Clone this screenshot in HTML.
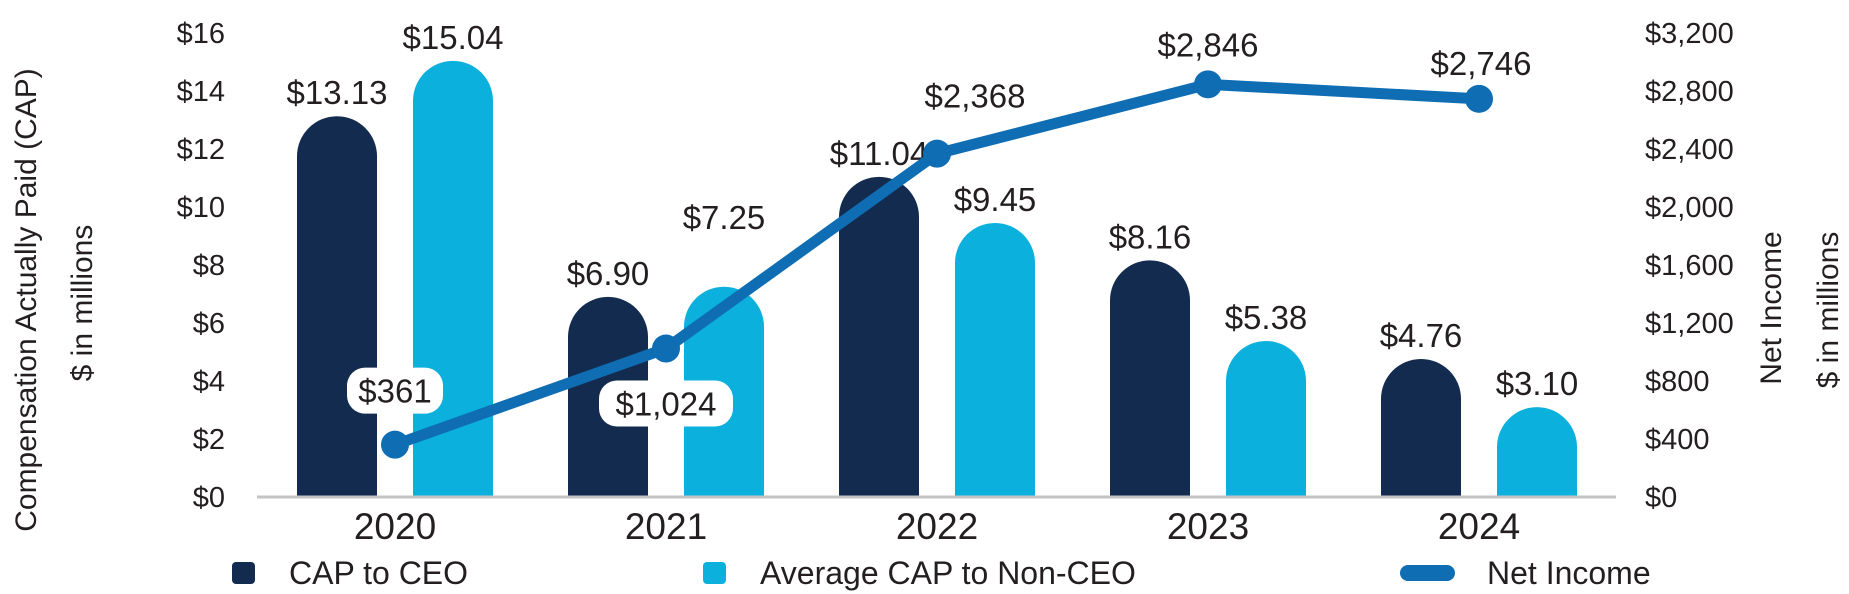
<!DOCTYPE html>
<html><head><meta charset="utf-8"><style>
html,body{margin:0;padding:0;background:#fff;}
svg{display:block;font-family:"Liberation Sans",sans-serif;}
</style></head><body>
<svg id="chart" width="1849" height="594" viewBox="0 0 1849 594">
<text transform="translate(36,300) rotate(-90)" text-anchor="middle" font-size="30" fill="#231f20">Compensation Actually Paid (CAP)</text>
<text transform="translate(92,303) rotate(-90)" text-anchor="middle" font-size="30" fill="#231f20">$ in millions</text>
<text transform="translate(1781,308) rotate(-90)" text-anchor="middle" font-size="30" fill="#231f20">Net Income</text>
<text transform="translate(1838,310) rotate(-90)" text-anchor="middle" font-size="30" fill="#231f20">$ in millions</text>
<g id="g-left"></g>
<g id="g-right"></g>
<g id="g-bars"></g>
<line x1="257" y1="497" x2="1616" y2="497" stroke="#c3c3c3" stroke-width="3"/>
<g id="g-x"></g>
<g id="g-line"></g>
<g>
<rect x="232" y="562" width="23" height="22" rx="4" fill="#132b4f"/>
<text x="289" y="584" font-size="32" fill="#231f20">CAP to CEO</text>
<rect x="703" y="562" width="23" height="22" rx="4" fill="#0bb0dc"/>
<text x="760" y="584" font-size="32" fill="#231f20">Average CAP to Non-CEO</text>
<line x1="1408" y1="573" x2="1447" y2="573" stroke="#0e6db3" stroke-width="16" stroke-linecap="round"/>
<text x="1487" y="584" font-size="32" fill="#231f20">Net Income</text>
</g>
</svg>
<script>
const years = ["2020","2021","2022","2023","2024"];
const capCeo = [13.13, 6.90, 11.04, 8.16, 4.76];
const capNonCeo = [15.04, 7.25, 9.45, 5.38, 3.10];
const netIncome = [361, 1024, 2368, 2846, 2746];
const leftTicks = [0,2,4,6,8,10,12,14,16];
const rightTicks = [0,400,800,1200,1600,2000,2400,2800,3200];

const NS="http://www.w3.org/2000/svg";
const Y0=497, PXU=29;
function yL(v){return Y0 - v*PXU;}
function yR(v){return Y0 - v/3200*16*PXU;}
function xC(i){return 395 + i*271;}
function mk(tag,attrs,parent,text){const e=document.createElementNS(NS,tag);for(const k in attrs)e.setAttribute(k,attrs[k]);if(text!==undefined)e.textContent=text;parent.appendChild(e);return e;}
function money(v,d){return "$"+v.toLocaleString("en-US",{minimumFractionDigits:d,maximumFractionDigits:d});}

const gL=document.getElementById("g-left"),gR=document.getElementById("g-right"),gB=document.getElementById("g-bars"),gX=document.getElementById("g-x"),gN=document.getElementById("g-line");
leftTicks.forEach(v=>{const t=mk("text",{x:225,y:yL(v)+10,"text-anchor":"end","font-size":29,fill:"#231f20"},gL,money(v,0));

});
rightTicks.forEach(v=>{const t=mk("text",{x:1645,y:yR(v)+10,"font-size":29,fill:"#231f20"},gR,money(v,0));

});

function bar(x,v,color){const w=80,r=40,top=yL(v),bot=Y0;
const d=`M${x},${bot}V${top+r}A${r},${r} 0 0 1 ${x+w},${top+r}V${bot}Z`;
return mk("path",{d:d,fill:color},gB);}
const labelLift=[0,46,0,0,0];
years.forEach((y,i)=>{
const cx=xC(i);
const b1=bar(cx-98,capCeo[i],"#132b4f");


const b2=bar(cx+18,capNonCeo[i],"#0bb0dc");


const l1=mk("text",{x:cx-58,y:yL(capCeo[i])-12,"text-anchor":"middle","font-size":33,fill:"#231f20"},gB,money(capCeo[i],2));


const l2=mk("text",{x:cx+58,y:yL(capNonCeo[i])-12-labelLift[i],"text-anchor":"middle","font-size":33,fill:"#231f20"},gB,money(capNonCeo[i],2));


const xl=mk("text",{x:cx,y:539,"text-anchor":"middle","font-size":37,fill:"#231f20"},gX,y);


});
const pts=netIncome.map((v,i)=>[xC(i),yR(v)]);
const pl=mk("polyline",{points:pts.map(p=>p.join(",")).join(" "),fill:"none",stroke:"#0e6db3","stroke-width":11,"stroke-linejoin":"round"},gN);


pts.forEach((p,i)=>{const c=mk("circle",{cx:p[0],cy:p[1],r:14,fill:"#0e6db3"},gN);

});
const nlPos=[[0,-54,true],[0,55,true],[38,-58,false],[0,-40,false],[2,-36,false]];
netIncome.forEach((v,i)=>{const [dx,dy,boxed]=nlPos[i];const cx=pts[i][0]+dx,cy=pts[i][1]+dy;
if(boxed){const txt=money(v,0);const w=txt.length*19+20;
const r=mk("rect",{x:cx-w/2,y:cy-23,width:w,height:46,rx:18,fill:"#fff"},gN);

}
const t=mk("text",{x:cx,y:cy+12,"text-anchor":"middle","font-size":33,fill:"#231f20"},gN,money(v,0));

});
</script>
</body></html>
